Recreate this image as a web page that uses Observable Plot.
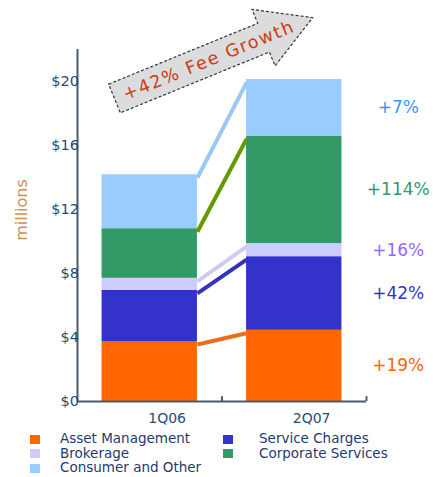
<!DOCTYPE html>
<html><head><meta charset="utf-8">
<script src="https://cdn.jsdelivr.net/npm/d3@7"></script>
<script src="https://cdn.jsdelivr.net/npm/@observablehq/plot@0.6"></script>
<style>
body{margin:0;background:#fff;font-family:"DejaVu Sans",Verdana,sans-serif;}
#wrap{position:relative;width:433px;}
#legend{position:relative;width:433px;height:49px;}
.lg{position:absolute;font-size:13.5px;color:#1f3a70;white-space:nowrap;line-height:1;}
.sw{position:absolute;width:10px;height:9px;}
</style></head><body><div id="wrap"></div><div id="legend"></div>
<script>
const quarters = ["1Q06", "2Q07"];
const seriesNames = ["Asset Management", "Service Charges", "Brokerage", "Corporate Services", "Consumer and Other"];
const assetManagement = [3.75, 4.45];
const serviceCharges = [3.2, 4.6];
const brokerage = [0.75, 0.82];
const corporateServices = [3.1, 6.72];
const consumerAndOther = [3.37, 3.53];
const growthLabels = ["+19%", "+42%", "+16%", "+114%", "+7%"];
const yTicks = [0, 4, 8, 12, 16, 20];
const headline = "+42% Fee Growth";
const axisTitle = "millions";

const barColors = ["#ff6600", "#3333cc", "#ccccff", "#339966", "#99ccff"];
const linkColors = ["#e8701a", "#3333bb", "#ccccee", "#669900", "#99c8f5"];
const labelColors = ["#ff6600", "#3333cc", "#9966ff", "#339966", "#3399ff"];
const axisColor = "#4a5a6e";
const textColor = "#1f4e79";

const values = [assetManagement, serviceCharges, brokerage, corporateServices, consumerAndOther];
const segs = [];
const cum = quarters.map(() => 0);
values.forEach((vals, si) => {
  vals.forEach((v, qi) => {
    segs.push({q: qi, si, s: seriesNames[si], y1: cum[qi], y2: cum[qi] + v});
    cum[qi] += v;
  });
});
const pairs = seriesNames.map((s, si) => ({
  si, s,
  a: segs.find(d => d.si === si && d.q === 0),
  b: segs.find(d => d.si === si && d.q === 1)
}));
const half = 0.33;

const plot = Plot.plot({
  width: 433, height: 428,
  marginLeft: 77, marginRight: 67, marginTop: 49, marginBottom: 27,
  style: {fontFamily: "DejaVu Sans, Verdana, sans-serif", fontSize: "13px", color: textColor, background: "transparent", overflow: "visible"},
  x: {domain: [-0.5, 1.5], axis: null},
  y: {domain: [0, 22], axis: null},
  color: {type: "identity"},
  marks: [
    Plot.rectY(segs, {x1: d => d.q - half, x2: d => d.q + half, y1: "y1", y2: "y2", fill: d => barColors[d.si]}),
    Plot.link(pairs, {x1: d => half, x2: d => 1 - half, y1: d => d.a.y2, y2: d => d.b.y2, stroke: d => linkColors[d.si], strokeWidth: 4, dy: 3}),
    Plot.text(pairs, {x: d => 1, y: d => (d.b.y1 + d.b.y2) / 2, text: d => growthLabels[d.si], fill: d => labelColors[d.si], dx: 104, fontSize: 17}),
    Plot.ruleX([-0.5], {stroke: axisColor, strokeWidth: 2}),
    Plot.ruleY([0], {stroke: axisColor, strokeWidth: 2}),
    Plot.ruleX([0.5, 1.5], {y1: 0, y2: 0.3, stroke: axisColor, strokeWidth: 2}),
    Plot.text(quarters, {x: (d, i) => i, y: d => 0, dy: 17, dx: -1.5, text: d => d, textAnchor: "start", fill: textColor, fontSize: 14}),
    Plot.text(yTicks, {x: d => -0.5, y: d => d, text: d => "$" + d, textAnchor: "end", dx: 1.5, fill: textColor, fontSize: 14.5})
  ]
});
document.getElementById("wrap").appendChild(plot);

const svg = d3.select(plot);
// axis title
svg.append("text")
  .attr("transform", "translate(21,210) rotate(-90)")
  .attr("text-anchor", "middle")
  .attr("dominant-baseline", "central")
  .attr("fill", "#d09050")
  .attr("font-size", 16)
  .text(axisTitle);

// headline arrow
const g = svg.append("g").attr("transform", "translate(114.5,98.5) rotate(-22.2)");
g.append("path")
  .attr("d", "M0,-15.5 L161,-15.5 L161,-30.5 L214,0 L161,30.5 L161,15.5 L0,15.5 Z")
  .attr("fill", "#dadcde")
  .attr("stroke", "#333")
  .attr("stroke-width", 1.2)
  .attr("stroke-dasharray", "3,2");
g.append("text")
  .attr("x", 101).attr("y", 0)
  .attr("text-anchor", "middle")
  .attr("dominant-baseline", "central")
  .attr("fill", "#d03a10")
  .attr("font-size", 17.5)
  .attr("textLength", 182)
  .attr("lengthAdjust", "spacing")
  .text(headline);

// legend
const legend = d3.select("#legend");
seriesNames.forEach((name, i) => {
  const row = Math.floor(i / 2), col = i % 2;
  const cy = 11 + row * 14.5;
  legend.append("div").attr("class", "sw")
    .style("left", (col ? 223 : 30) + "px")
    .style("top", (cy - 4.5) + "px")
    .style("background", barColors[i]);
  legend.append("div").attr("class", "lg")
    .style("left", (col ? 259 : 60) + "px")
    .style("top", (cy - 7) + "px")
    .text(name);
});
</script></body></html>
